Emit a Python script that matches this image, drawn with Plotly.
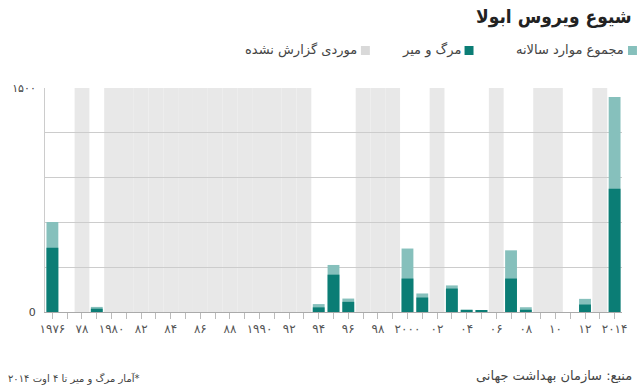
import plotly.graph_objects as go

# ---- data ----
years = [1976, 1979, 1994, 1995, 1996, 2000, 2001, 2003, 2004, 2005, 2007, 2008, 2012, 2014]
total_cases = [602, 34, 53, 315, 90, 425, 124, 178, 17, 12, 413, 32, 88, 1440]
deaths = [431, 22, 31, 250, 68, 224, 97, 157, 7, 10, 224, 15, 50, 826]
unreported_years = [1978] + list(range(1980, 1994)) + [1997, 1998, 1999, 2002, 2006, 2009, 2010, 2013]
tick_years = list(range(1976, 2015, 2))
tick_labels = ["۱۹۷۶", "۷۸", "۱۹۸۰", "۸۲", "۸۴", "۸۶", "۸۸", "۱۹۹۰", "۹۲", "۹۴",
               "۹۶", "۹۸", "۲۰۰۰", "۰۲", "۰۴", "۰۶", "۰۸", "۱۰", "۱۲", "۲۰۱۴"]
y_ticks = [0, 300, 600, 900, 1200, 1500]
y_labels = ["0", "", "", "", "", "۱۵۰۰"]

LIGHT = "#86c0bc"
DARK = "#0b7d75"
GRAY_BAND = "#e8e8e8"
GRAY_KEY = "#d9d9d9"
FONT = "DejaVu Sans"
TITLE_FONT = "DejaVu Sans Condensed, DejaVu Sans"

W, H = 640, 391
ML, MR, MT, MB = 43, 18, 88, 79
PW, PH = W - ML - MR, H - MT - MB


def px(x):
    return (x - ML) / PW


def py(y):
    return (H - MB - y) / PH


fig = go.Figure()
fig.add_trace(go.Bar(x=years, y=total_cases, width=0.8, marker=dict(color=LIGHT, line=dict(width=0)),
                     name="مجموع موارد سالانه", hoverinfo="skip"))
fig.add_trace(go.Bar(x=years, y=deaths, width=0.8, marker=dict(color=DARK, line=dict(width=0)),
                     name="مرگ و میر", hoverinfo="skip"))

shapes = []
for yr in unreported_years:
    shapes.append(dict(type="rect", xref="x", yref="y", x0=yr - 0.5, x1=yr + 0.5, y0=0, y1=y_ticks[-1],
                       fillcolor=GRAY_BAND, line=dict(width=0), layer="below"))

# legend keys (RTL: square to the right of text)
legend_items = [
    ("مجموع موارد سالانه", LIGHT, 637),
    ("مرگ و میر", DARK, 473),
    ("موردی گزارش نشده", GRAY_KEY, 369),
]
annotations = []
for text, col, xr in legend_items:
    shapes.append(dict(type="rect", xref="paper", yref="paper",
                       x0=px(xr - 9), x1=px(xr), y0=py(55), y1=py(46),
                       fillcolor=col, line=dict(width=0)))
    annotations.append(dict(text=text, xref="paper", yref="paper", x=px(xr - 11), y=py(50),
                            xanchor="right", yanchor="middle", showarrow=False,
                            font=dict(family=FONT, size=13, color="#444")))

annotations.append(dict(text="<b>شیوع ویروس ابولا</b>", xref="paper", yref="paper", x=px(634), y=py(17),
                        xanchor="right", yanchor="middle", showarrow=False,
                        font=dict(family=TITLE_FONT, size=19, color="#222")))
annotations.append(dict(text="منبع: سازمان بهداشت جهانی", xref="paper", yref="paper", x=px(634), y=py(376),
                        xanchor="right", yanchor="middle", showarrow=False,
                        font=dict(family=FONT, size=13, color="#444")))
annotations.append(dict(text="\u200f*آمار مرگ و میر تا ۴ اوت ۲۰۱۴", xref="paper", yref="paper", x=px(4), y=py(378),
                        xanchor="left", yanchor="middle", showarrow=False,
                        font=dict(family=FONT, size=10, color="#444")))

fig.update_layout(
    width=W, height=H,
    margin=dict(l=ML, r=MR, t=MT, b=MB),
    paper_bgcolor="white", plot_bgcolor="rgba(0,0,0,0)",
    barmode="overlay", showlegend=False,
    shapes=shapes, annotations=annotations,
    font=dict(family=FONT, color="#444"),
    xaxis=dict(range=[1975.5, 2014.5], tickmode="array", tickvals=tick_years, ticktext=tick_labels,
               ticks="outside", ticklen=6, tickcolor="#bbbbbb", showgrid=False, zeroline=False,
               showline=True, linecolor="#aaaaaa", linewidth=1,
               tickfont=dict(family=FONT, size=12, color="#555"),
               minor=dict(ticks="outside", dtick=1, tick0=1976, ticklen=6, tickcolor="#bbbbbb", showgrid=False)),
    yaxis=dict(range=[0, 1500], tickmode="array", tickvals=y_ticks, ticktext=y_labels,
               showgrid=True, gridcolor="#cccccc", gridwidth=1, zeroline=False,
               showline=True, linecolor="#cccccc", linewidth=1, ticks="",
               ticklabelstandoff=6,
               tickfont=dict(family=FONT, size=11, color="#444")),
)

fig.write_html("out.html")
